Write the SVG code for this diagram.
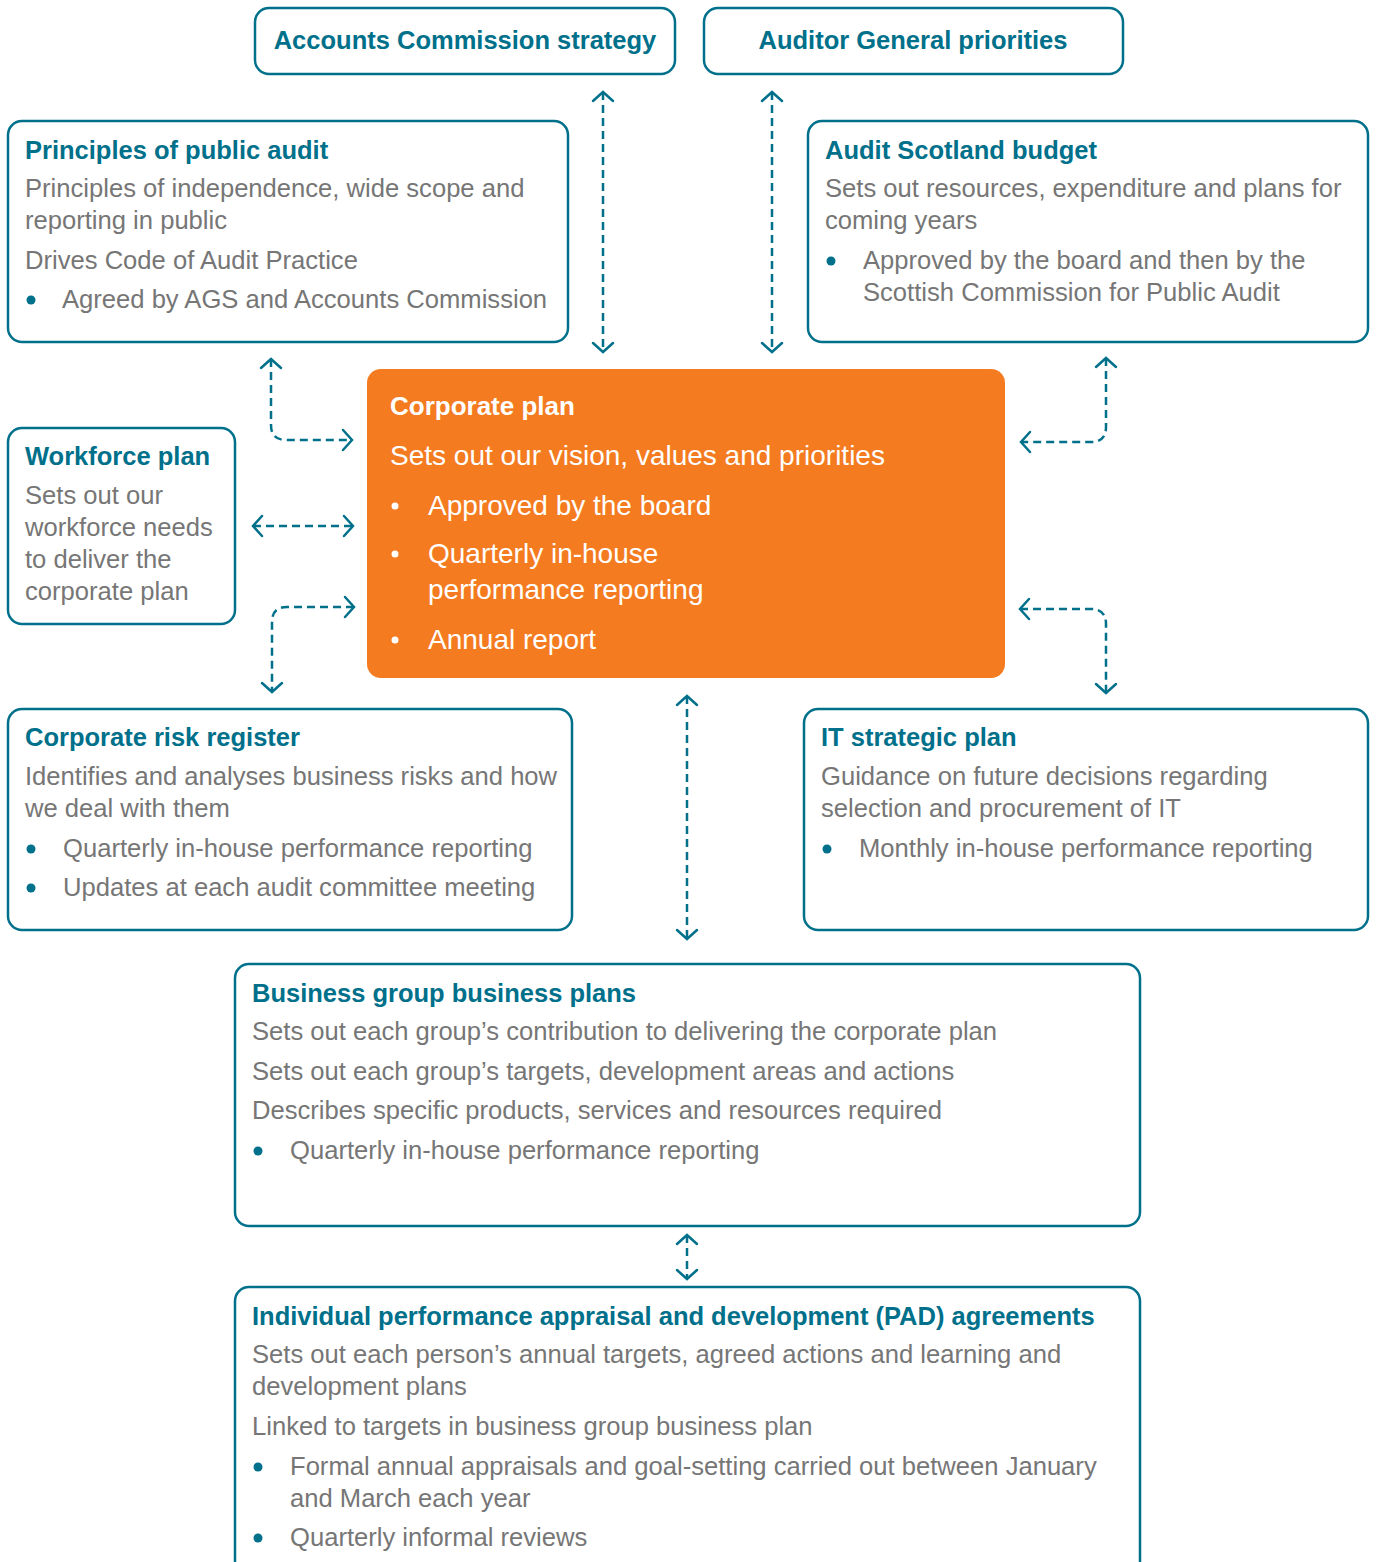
<svg xmlns="http://www.w3.org/2000/svg" width="1376" height="1562" viewBox="0 0 1376 1562">
  <style>
    .box { fill: #ffffff; stroke: #00708b; stroke-width: 2.5; }
    .core { fill: #f47b20; stroke: none; }
    .title { font-family: "Liberation Sans", Arial, sans-serif; font-weight: bold; font-size: 25.5px; fill: #00708b; }
    .body { font-family: "Liberation Sans", Arial, sans-serif; font-size: 25.6px; fill: #767676; }
    .ctitle { font-family: "Liberation Sans", Arial, sans-serif; font-weight: bold; font-size: 26px; fill: #ffffff; }
    .cbody { font-family: "Liberation Sans", Arial, sans-serif; font-size: 28px; fill: #ffffff; }
    .dot { fill: #00708b; }
    .cdot { fill: #ffffff; }
    .link { fill: none; stroke: #00708b; stroke-width: 2.5; stroke-dasharray: 8 5; marker-start: url(#chev); marker-end: url(#chev); }
  </style>
  <defs>
    <marker id="chev" markerUnits="userSpaceOnUse" markerWidth="26" markerHeight="26" viewBox="0 0 26 26" refX="13" refY="13" orient="auto-start-reverse">
      <path d="M4,3 L13,13 L4,23" fill="none" stroke="#00708b" stroke-width="2.5" stroke-linecap="round" stroke-linejoin="miter"/>
    </marker>
  </defs>

  <rect width="1376" height="1562" fill="#ffffff"/>

  <!-- dashed two-way connectors -->
  <g id="connectors">
    <path class="link" d="M603,92 L603,352"/>
    <path class="link" d="M772,92 L772,352"/>
    <path class="link" d="M271,359 L271,425 Q271,440 286,440 L352,440"/>
    <path class="link" d="M1106,358 L1106,427 Q1106,442 1091,442 L1021,442"/>
    <path class="link" d="M253,526 L353,526"/>
    <path class="link" d="M354,607 L287,607 Q272,607 272,622 L272,692"/>
    <path class="link" d="M1020,609 L1091,609 Q1106,609 1106,624 L1106,693"/>
    <path class="link" d="M687,696 L687,939"/>
    <path class="link" d="M687,1235 L687,1279"/>
  </g>

  <g id="accounts-commission-strategy">
    <rect class="box" x="255" y="8" width="420" height="66" rx="14"/>
    <text class="title" x="465" y="49" text-anchor="middle">Accounts Commission strategy</text>
  </g>

  <g id="auditor-general-priorities">
    <rect class="box" x="704" y="8" width="419" height="66" rx="14"/>
    <text class="title" x="913" y="49" text-anchor="middle">Auditor General priorities</text>
  </g>

  <g id="principles-of-public-audit">
    <rect class="box" x="8" y="121" width="560" height="221" rx="14"/>
    <text class="title" x="25" y="159">Principles of public audit</text>
    <text class="body" x="25" y="197">Principles of independence, wide scope and</text>
    <text class="body" x="25" y="229">reporting in public</text>
    <text class="body" x="25" y="269">Drives Code of Audit Practice</text>
    <circle class="dot" cx="31" cy="300" r="4.5"/>
    <text class="body" x="62" y="308">Agreed by AGS and Accounts Commission</text>
  </g>

  <g id="audit-scotland-budget">
    <rect class="box" x="808" y="121" width="560" height="221" rx="14"/>
    <text class="title" x="825" y="159">Audit Scotland budget</text>
    <text class="body" x="825" y="197">Sets out resources, expenditure and plans for</text>
    <text class="body" x="825" y="229">coming years</text>
    <circle class="dot" cx="831" cy="261" r="4.5"/>
    <text class="body" x="863" y="269">Approved by the board and then by the</text>
    <text class="body" x="863" y="301">Scottish Commission for Public Audit</text>
  </g>

  <g id="corporate-plan">
    <rect class="core" x="367" y="369" width="638" height="309" rx="14"/>
    <text class="ctitle" x="390" y="415">Corporate plan</text>
    <text class="cbody" x="390" y="465">Sets out our vision, values and priorities</text>
    <circle class="cdot" cx="395" cy="506" r="3.5"/>
    <text class="cbody" x="428" y="515">Approved by the board</text>
    <circle class="cdot" cx="395" cy="554" r="3.5"/>
    <text class="cbody" x="428" y="563">Quarterly in-house</text>
    <text class="cbody" x="428" y="599">performance reporting</text>
    <circle class="cdot" cx="395" cy="640" r="3.5"/>
    <text class="cbody" x="428" y="649">Annual report</text>
  </g>

  <g id="workforce-plan">
    <rect class="box" x="8" y="428" width="227" height="196" rx="14"/>
    <text class="title" x="25" y="465">Workforce plan</text>
    <text class="body" x="25" y="504">Sets out our</text>
    <text class="body" x="25" y="536">workforce needs</text>
    <text class="body" x="25" y="568">to deliver the</text>
    <text class="body" x="25" y="600">corporate plan</text>
  </g>

  <g id="corporate-risk-register">
    <rect class="box" x="8" y="709" width="564" height="221" rx="14"/>
    <text class="title" x="25" y="746">Corporate risk register</text>
    <text class="body" x="25" y="785">Identifies and analyses business risks and how</text>
    <text class="body" x="25" y="817">we deal with them</text>
    <circle class="dot" cx="31" cy="849" r="4.5"/>
    <text class="body" x="63" y="857">Quarterly in-house performance reporting</text>
    <circle class="dot" cx="31" cy="888" r="4.5"/>
    <text class="body" x="63" y="896">Updates at each audit committee meeting</text>
  </g>

  <g id="it-strategic-plan">
    <rect class="box" x="804" y="709" width="564" height="221" rx="14"/>
    <text class="title" x="821" y="746">IT strategic plan</text>
    <text class="body" x="821" y="785">Guidance on future decisions regarding</text>
    <text class="body" x="821" y="817">selection and procurement of IT</text>
    <circle class="dot" cx="827" cy="849" r="4.5"/>
    <text class="body" x="859" y="857">Monthly in-house performance reporting</text>
  </g>

  <g id="business-group-business-plans">
    <rect class="box" x="235" y="964" width="905" height="262" rx="14"/>
    <text class="title" x="252" y="1002">Business group business plans</text>
    <text class="body" x="252" y="1040">Sets out each group’s contribution to delivering the corporate plan</text>
    <text class="body" x="252" y="1080">Sets out each group’s targets, development areas and actions</text>
    <text class="body" x="252" y="1119">Describes specific products, services and resources required</text>
    <circle class="dot" cx="258" cy="1151" r="4.5"/>
    <text class="body" x="290" y="1159">Quarterly in-house performance reporting</text>
  </g>

  <g id="pad-agreements">
    <rect class="box" x="235" y="1287" width="905" height="300" rx="14"/>
    <text class="title" x="252" y="1325">Individual performance appraisal and development (PAD) agreements</text>
    <text class="body" x="252" y="1363">Sets out each person’s annual targets, agreed actions and learning and</text>
    <text class="body" x="252" y="1395">development plans</text>
    <text class="body" x="252" y="1435">Linked to targets in business group business plan</text>
    <circle class="dot" cx="258" cy="1467" r="4.5"/>
    <text class="body" x="290" y="1475">Formal annual appraisals and goal-setting carried out between January</text>
    <text class="body" x="290" y="1507">and March each year</text>
    <circle class="dot" cx="258" cy="1538" r="4.5"/>
    <text class="body" x="290" y="1546">Quarterly informal reviews</text>
  </g>
</svg>
